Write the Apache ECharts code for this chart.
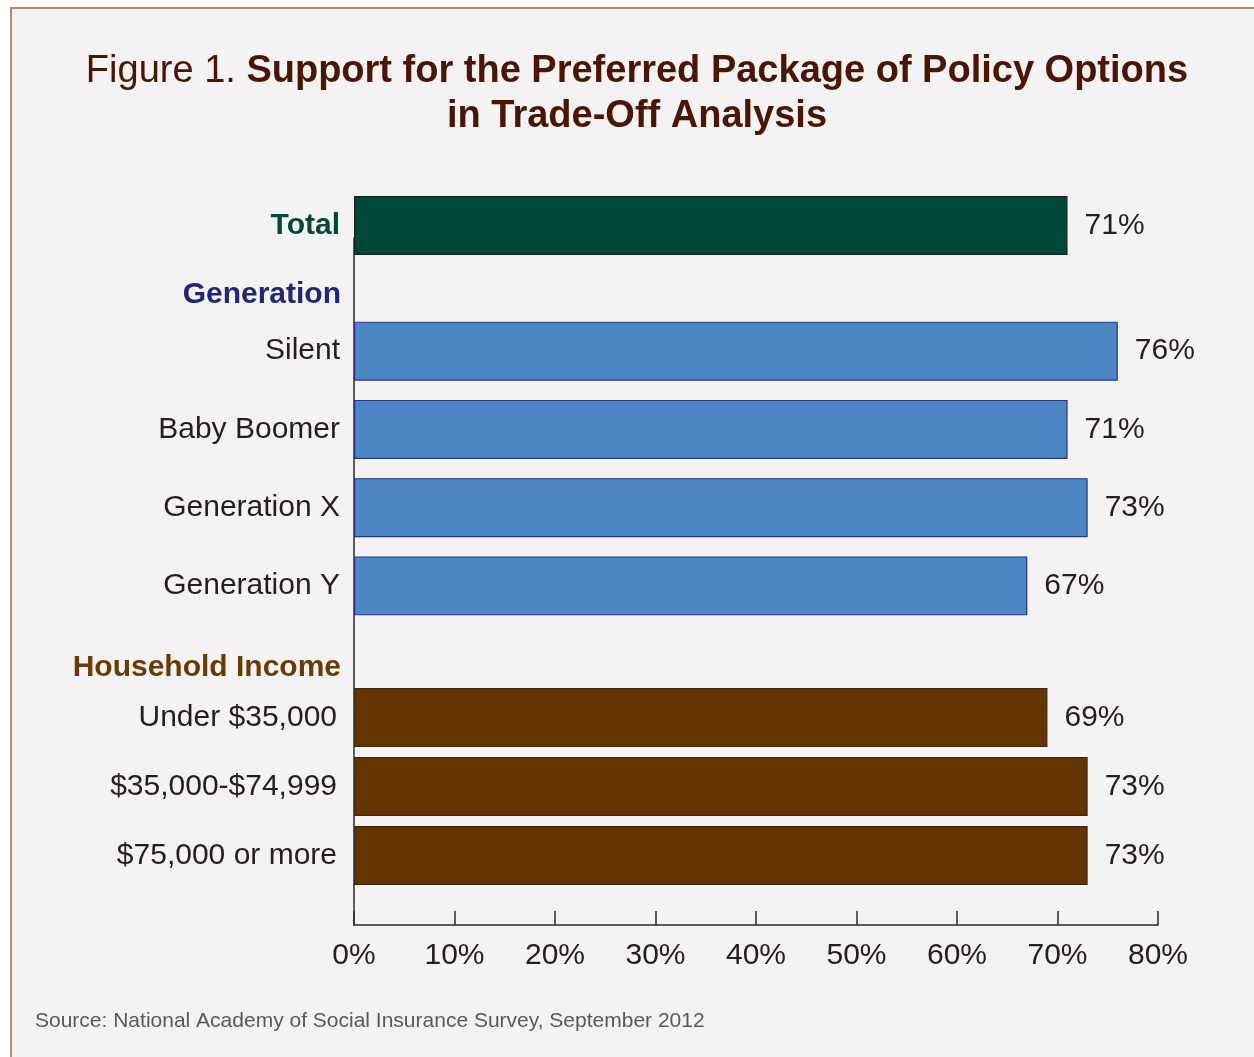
<!DOCTYPE html>
<html>
<head>
<meta charset="utf-8">
<script src="https://cdn.jsdelivr.net/npm/echarts@6/dist/echarts.min.js"></script>
<style>
  html, body { margin: 0; padding: 0; background: #ffffff; }
  #panel {
    position: absolute; left: 10px; top: 7px; right: 0; bottom: 0;
    background: #f4f2f3;
    border-left: 2px solid #a58c7b;
    border-top: 2px solid #a58c7b;
  }
  #chart { position: absolute; left: 0; top: 0; width: 1254px; height: 1057px; }
</style>
</head>
<body>
<div id="panel"></div>
<div id="chart"></div>
<script>
// 数据
const totalCats = ['Total']
const totalValues = [71]
const genCats = ['Silent', 'Baby Boomer', 'Generation X', 'Generation Y']
const genValues = [76, 71, 73, 67]
const incomeCats = ['Under $35,000', '$35,000-$74,999', '$75,000 or more']
const incomeValues = [69, 73, 73]
const groupHeaders = ['Generation', 'Household Income']
const xMin = 0
const xMax = 80
const xStep = 10

const FONT = '"Liberation Sans", Arial, Helvetica, sans-serif'
const TEXT = '#231f20'

const chart = echarts.init(document.getElementById('chart'), null, { renderer: 'canvas' })

// 每组一个grid，x轴共用同一刻度
function hiddenX(gridIndex) {
  return { gridIndex, type: 'value', min: xMin, max: xMax, interval: xStep, show: false }
}
function catY(gridIndex, data, color, bold, margin) {
  return {
    gridIndex,
    type: 'category',
    inverse: true,
    data,
    axisLine: { show: false },
    axisTick: { show: false },
    axisLabel: {
      margin,
      fontFamily: FONT,
      fontSize: 30,
      fontWeight: bold ? 'bold' : 'normal',
      color
    }
  }
}
function barSeries(idx, data, fill, border) {
  return {
    type: 'bar',
    xAxisIndex: idx,
    yAxisIndex: idx,
    data,
    barWidth: 59,
    itemStyle: { color: fill, borderColor: border, borderWidth: 1.2 },
    label: {
      show: true,
      position: 'right',
      distance: 17,
      formatter: '{c}%',
      fontFamily: FONT,
      fontSize: 30,
      color: TEXT
    }
  }
}

const option = {
  backgroundColor: 'transparent',
  animation: false,
  title: {
    left: 632,
    top: 44,
    textAlign: 'center',
    text: '{n|Figure 1. }{b|Support for the Preferred Package of Policy Options}\n{b|in Trade-Off Analysis}',
    textStyle: {
      fontFamily: FONT,
      fontWeight: 'normal',
      lineHeight: 45,
      rich: {
        n: { fontFamily: FONT, fontSize: 38, fontWeight: 'normal', color: '#4a1502', lineHeight: 45 },
        b: { fontFamily: FONT, fontSize: 38, fontWeight: 'bold', color: '#4a1502', lineHeight: 45 }
      }
    }
  },
  grid: [
    { left: 354, right: 96, top: 196, height: 59 },
    { left: 354, right: 96, top: 312, height: 313 },
    { left: 354, right: 96, top: 683, height: 207 },
    { left: 354, right: 96, top: 238, bottom: 132 }
  ],
  xAxis: [
    hiddenX(0),
    hiddenX(1),
    hiddenX(2),
    {
      gridIndex: 3,
      type: 'value',
      min: xMin,
      max: xMax,
      interval: xStep,
      axisLine: { show: true, lineStyle: { color: '#2b2b2b', width: 1.5 } },
      axisTick: { show: true, inside: true, length: 14, lineStyle: { color: '#2b2b2b', width: 1.5 } },
      splitLine: { show: false },
      axisLabel: {
        margin: 16,
        formatter: '{value}%',
        fontFamily: FONT,
        fontSize: 30,
        color: TEXT
      }
    }
  ],
  yAxis: [
    catY(0, totalCats, '#004838', true, 14),
    catY(1, genCats, TEXT, false, 14),
    catY(2, incomeCats, TEXT, false, 17),
    {
      gridIndex: 3,
      type: 'value',
      min: 0,
      max: 1,
      axisLine: { show: true, lineStyle: { color: '#2b2b2b', width: 1.5 } },
      axisTick: { show: false },
      axisLabel: { show: false },
      splitLine: { show: false }
    }
  ],
  graphic: [
    {
      type: 'text',
      right: 1254 - 341,
      top: 280,
      style: { text: groupHeaders[0], font: 'bold 30px ' + FONT, fill: '#1f2777' }
    },
    {
      type: 'text',
      right: 1254 - 341,
      top: 653,
      style: { text: groupHeaders[1], font: 'bold 30px ' + FONT, fill: '#6a3a04' }
    },
    {
      type: 'text',
      left: 35,
      top: 1011,
      style: {
        text: 'Source: National Academy of Social Insurance Survey, September 2012',
        font: '21px ' + FONT,
        fill: '#58595b'
      }
    }
  ],
  series: [
    barSeries(0, totalValues, '#004838', '#15261f'),
    barSeries(1, genValues, '#4d86c5', '#27348b'),
    barSeries(2, incomeValues, '#633400', '#3a2a14')
  ]
}

chart.setOption(option)
</script>
</body>
</html>
